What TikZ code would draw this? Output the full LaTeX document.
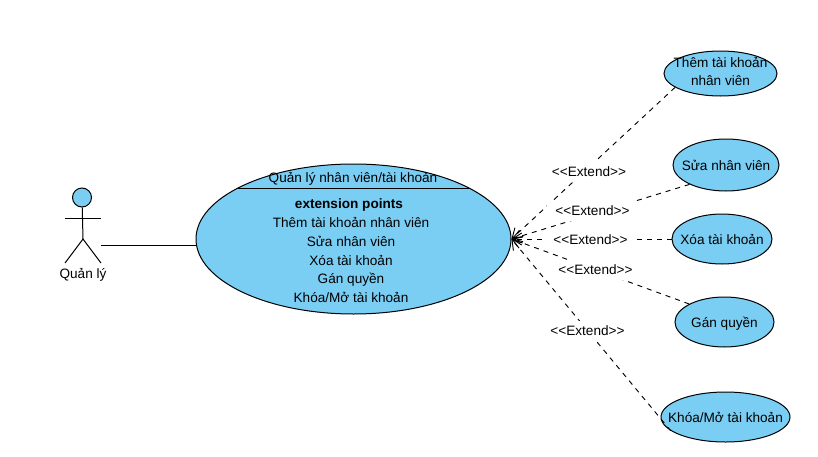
\documentclass[tikz,border=0pt]{standalone}
\usepackage{fontspec}
\usepackage{tikz}
\usetikzlibrary{shapes.geometric,arrows.meta}
\setmainfont{Liberation Sans}
\definecolor{usecaseblue}{HTML}{7ACEF4}

\tikzset{
	usecase/.style = {ellipse, draw, fill=usecaseblue, inner sep=0pt, line width=0.75pt},
	extendline/.style = {dashed, dash pattern=on 3.75pt off 3.75pt, line width=0.7pt, -{Straight Barb[length=7pt,width=9pt]}},
	extendlabel/.style = {fill=white, inner xsep=6.5pt, inner ysep=0pt, minimum height=15pt},
	plainlabel/.style = {inner sep=0pt, align=center},
	actorline/.style = {line width=0.75pt}
}

\begin{document}
\begin{tikzpicture}[x=0.75pt, y=-0.75pt, every node/.append style={font=\fontsize{10.2}{13.5}\selectfont}]
\useasboundingbox (0,0) rectangle (818,457);

% main use case
\node[usecase, minimum width=236.25pt, minimum height=112.5pt] (manage) at (353.5,239) {};
\coordinate (sepLeft) at (238,188);
\coordinate (sepRight) at (469,188);
\draw[actorline] (sepLeft) -- (sepRight);
\node[plainlabel] (manageName) at (353,178.5) {Quản lý nhân viên/tài khoản};
\node[plainlabel] (extPoints) at (349,205) {\bfseries extension points};
\node[plainlabel] (extThem) at (351,222.5) {Thêm tài khoản nhân viên};
\node[plainlabel] (extSua) at (351,241.5) {Sửa nhân viên};
\node[plainlabel] (extXoa) at (351,260.5) {Xóa tài khoản};
\node[plainlabel] (extGan) at (351,279.5) {Gán quyền};
\node[plainlabel] (extKhoa) at (351,297.5) {Khóa/Mở tài khoản};

% actor
\node[circle, draw, fill=usecaseblue, actorline, minimum size=14.25pt, inner sep=0pt] (head) at (82,197.5) {};
\coordinate (armLeft) at (65,218);
\coordinate (armRight) at (101,218);
\coordinate (hip) at (83,239);
\coordinate (legLeft) at (65,263);
\coordinate (legRight) at (101,263);
\coordinate (manager) at (101,245);
\draw[actorline] (head) -- (hip);
\draw[actorline] (armLeft) -- (armRight);
\draw[actorline] (legLeft) -- (hip) -- (legRight);
\node[plainlabel] (managerName) at (83,275) {Quản lý};
\draw[actorline] (manager) -- (manager -| manage.west);

% extending use cases
\node[usecase, minimum width=84.75pt, minimum height=33.75pt, label={[plainlabel, yshift=1.5pt]center:{Thêm tài khoản\\nhân viên}}] (them) at (720.5,73.5) {};
\node[usecase, minimum width=79.5pt, minimum height=39pt, label={[plainlabel]center:{Sửa nhân viên}}] (sua) at (726,165) {};
\node[usecase, minimum width=75pt, minimum height=37.5pt, label={[plainlabel]center:{Xóa tài khoản}}] (xoa) at (722,239) {};
\node[usecase, minimum width=74.25pt, minimum height=37.5pt, label={[plainlabel, yshift=-1.5pt]center:{Gán quyền}}] (gan) at (724.5,322) {};
\node[usecase, minimum width=96.75pt, minimum height=37.5pt, label={[plainlabel]center:{Khóa/Mở tài khoản}}] (khoa) at (725.5,417) {};

\draw[extendline] (them.197) -- (manage.east);
\draw[extendline] (sua.208) -- (manage.east);
\draw[extendline] (xoa.west) -- (manage.east);
\draw[extendline] (gan.153) -- (manage.east);
\draw[extendline] (khoa.194) -- (manage.east);

\node[extendlabel] (labelThem) at (589,172) {<{}<Extend>{}>};
\node[extendlabel] (labelSua) at (592.5,211) {<{}<Extend>{}>};
\node[extendlabel] (labelXoa) at (590.5,240) {<{}<Extend>{}>};
\node[extendlabel] (labelGan) at (595.5,270) {<{}<Extend>{}>};
\node[extendlabel] (labelKhoa) at (587.5,331) {<{}<Extend>{}>};
\end{tikzpicture}
\end{document}
